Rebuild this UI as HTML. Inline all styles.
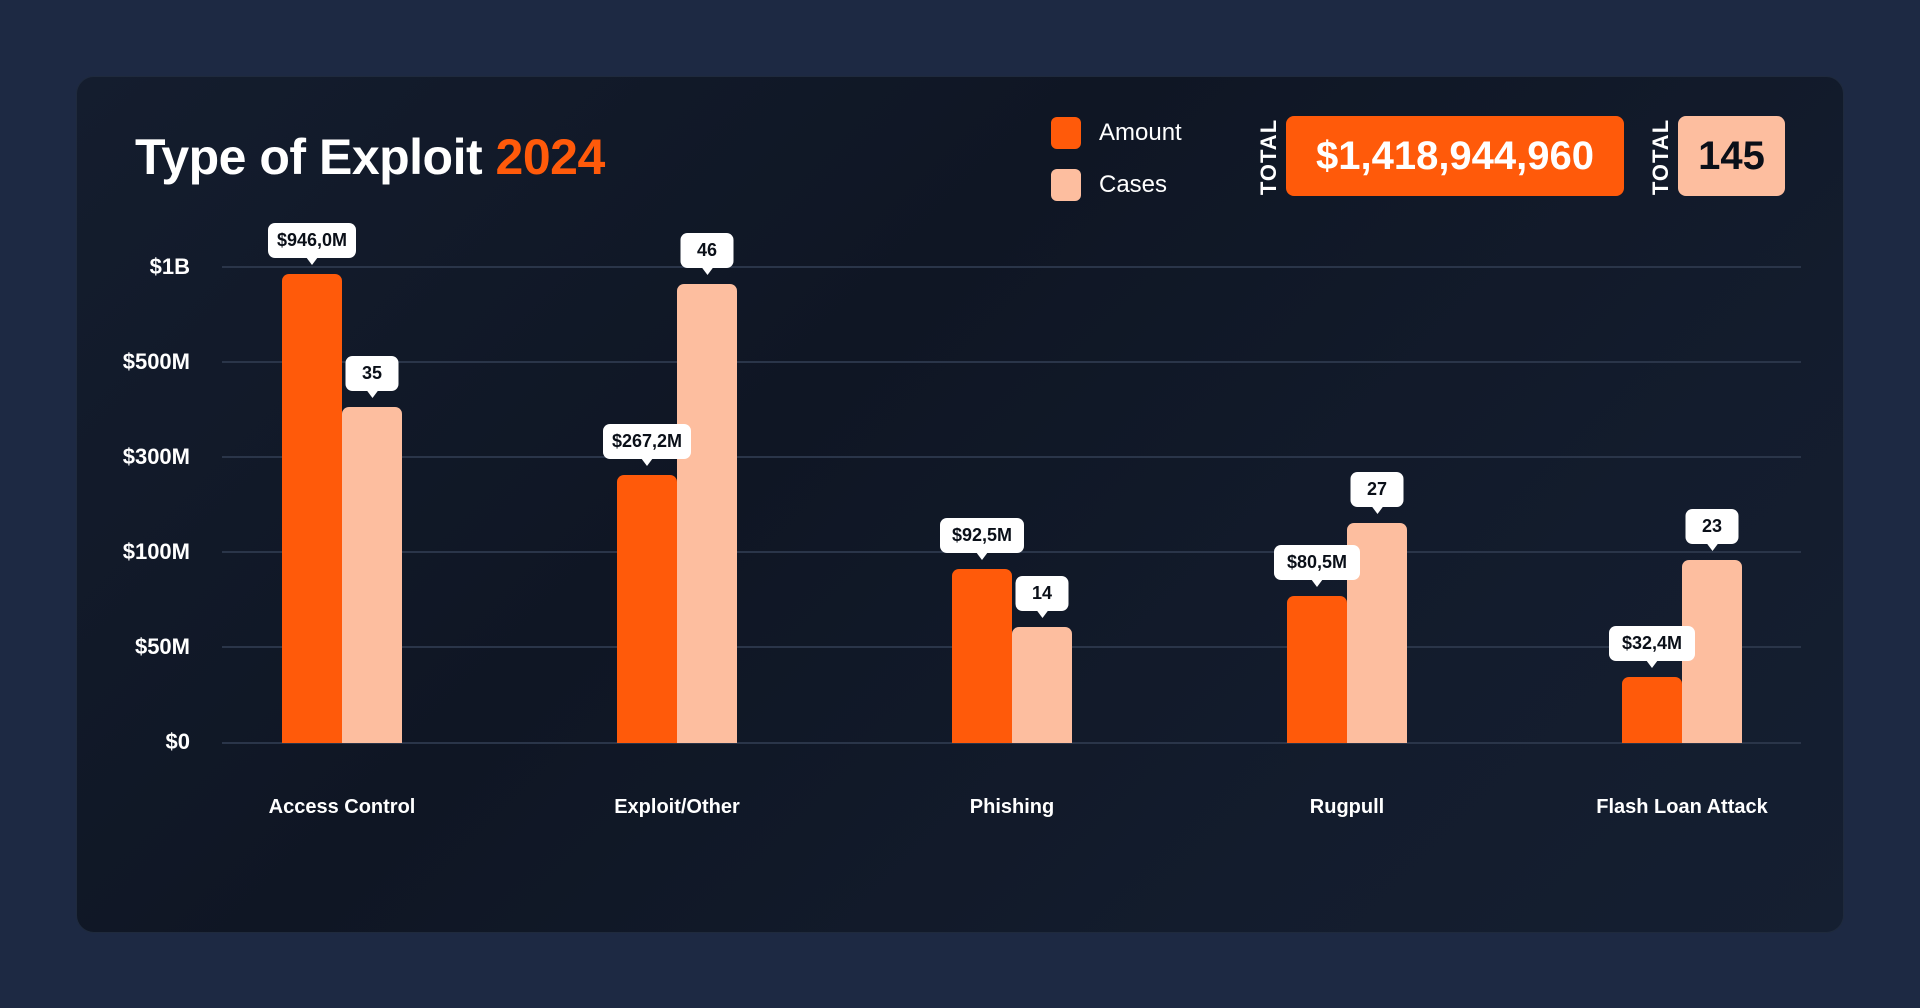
<!DOCTYPE html>
<html><head><meta charset="utf-8"><style>
*{margin:0;padding:0;box-sizing:border-box}
body{width:1920px;height:1008px;overflow:hidden;background:#1d2943;font-family:"Liberation Sans",sans-serif;position:relative}
.panel{position:absolute;left:76px;top:76px;width:1768px;height:857px;border-radius:18px;background:linear-gradient(135deg,#141d2e 0%,#0f1624 40%,#131c2d 75%,#151f31 100%);border:1px solid #1f2a3d}
.a{position:absolute}
.grid{position:absolute;left:222px;width:1579px;height:2px;background:#2a3549}
.yl{position:absolute;left:80px;width:110px;text-align:right;color:#fff;font-weight:bold;font-size:22px;line-height:22px}
.bar{position:absolute;width:60px;border-radius:7px 7px 0 0}
.o{background:#ff5a0a}.p{background:#fdbe9f}
.tip{position:absolute;height:35px;background:#fff;border-radius:7px;color:#0a0f18;font-weight:bold;font-size:18px;line-height:35px;text-align:center;transform:translateX(-50%)}
.tip:after{content:"";position:absolute;left:50%;bottom:-7px;margin-left:-6px;border-left:6px solid transparent;border-right:6px solid transparent;border-top:8px solid #fff}
.cat{position:absolute;top:796px;width:260px;text-align:center;color:#fff;font-size:20px;font-weight:bold;transform:translateX(-50%)}
.tot{position:absolute;top:118px;height:78px;width:18px;color:#fff;font-size:22px;font-weight:bold}
.tot span{position:absolute;left:50%;top:50%;transform:translate(-50%,-50%) rotate(-90deg);letter-spacing:1px}
</style></head><body>
<div class="panel"></div>
<div class="a" style="left:135px;top:128px;font-size:50px;font-weight:bold;color:#fff;letter-spacing:-0.5px">Type of Exploit <span style="color:#ff5a0a">2024</span></div>

<div class="a" style="left:1051px;top:117px;width:30px;height:32px;border-radius:6px;background:#ff5a0a"></div>
<div class="a" style="left:1051px;top:169px;width:30px;height:32px;border-radius:6px;background:#fdbe9f"></div>
<div class="a" style="left:1099px;top:119px;color:#fff;font-size:24px;line-height:28px">Amount</div>
<div class="a" style="left:1099px;top:171px;color:#fff;font-size:24px;line-height:28px">Cases</div>
<div class="tot" style="left:1260px"><span>TOTAL</span></div>
<div class="a" style="left:1286px;top:116px;width:338px;height:80px;border-radius:8px;background:#ff5a0a;color:#fff;font-weight:bold;font-size:40px;line-height:80px;text-align:center">$1,418,944,960</div>
<div class="tot" style="left:1652px"><span>TOTAL</span></div>
<div class="a" style="left:1678px;top:116px;width:107px;height:80px;border-radius:8px;background:#fdbe9f;color:#0a0f18;font-weight:bold;font-size:40px;line-height:80px;text-align:center">145</div>

<div class="grid" style="top:266px"></div>
<div class="grid" style="top:361px"></div>
<div class="grid" style="top:456px"></div>
<div class="grid" style="top:551px"></div>
<div class="grid" style="top:646px"></div>
<div class="grid" style="top:742px"></div>
<div class="yl" style="top:256px">$1B</div>
<div class="yl" style="top:351px">$500M</div>
<div class="yl" style="top:446px">$300M</div>
<div class="yl" style="top:541px">$100M</div>
<div class="yl" style="top:636px">$50M</div>
<div class="yl" style="top:731px">$0</div>

<div class="bar o" style="left:282px;top:274px;height:469px"></div>
<div class="bar p" style="left:342px;top:407px;height:336px"></div>
<div class="bar o" style="left:617px;top:475px;height:268px"></div>
<div class="bar p" style="left:677px;top:284px;height:459px"></div>
<div class="bar o" style="left:952px;top:569px;height:174px"></div>
<div class="bar p" style="left:1012px;top:627px;height:116px"></div>
<div class="bar o" style="left:1287px;top:596px;height:147px"></div>
<div class="bar p" style="left:1347px;top:523px;height:220px"></div>
<div class="bar o" style="left:1622px;top:677px;height:66px"></div>
<div class="bar p" style="left:1682px;top:560px;height:183px"></div>

<div class="tip" style="left:312px;top:223px;width:88px">$946,0M</div>
<div class="tip" style="left:372px;top:356px;width:53px">35</div>
<div class="tip" style="left:647px;top:424px;width:88px">$267,2M</div>
<div class="tip" style="left:707px;top:233px;width:53px">46</div>
<div class="tip" style="left:982px;top:518px;width:84px">$92,5M</div>
<div class="tip" style="left:1042px;top:576px;width:53px">14</div>
<div class="tip" style="left:1317px;top:545px;width:86px">$80,5M</div>
<div class="tip" style="left:1377px;top:472px;width:53px">27</div>
<div class="tip" style="left:1652px;top:626px;width:86px">$32,4M</div>
<div class="tip" style="left:1712px;top:509px;width:53px">23</div>

<div class="cat" style="left:342px">Access Control</div>
<div class="cat" style="left:677px">Exploit/Other</div>
<div class="cat" style="left:1012px">Phishing</div>
<div class="cat" style="left:1347px">Rugpull</div>
<div class="cat" style="left:1682px">Flash Loan Attack</div>
</body></html>
